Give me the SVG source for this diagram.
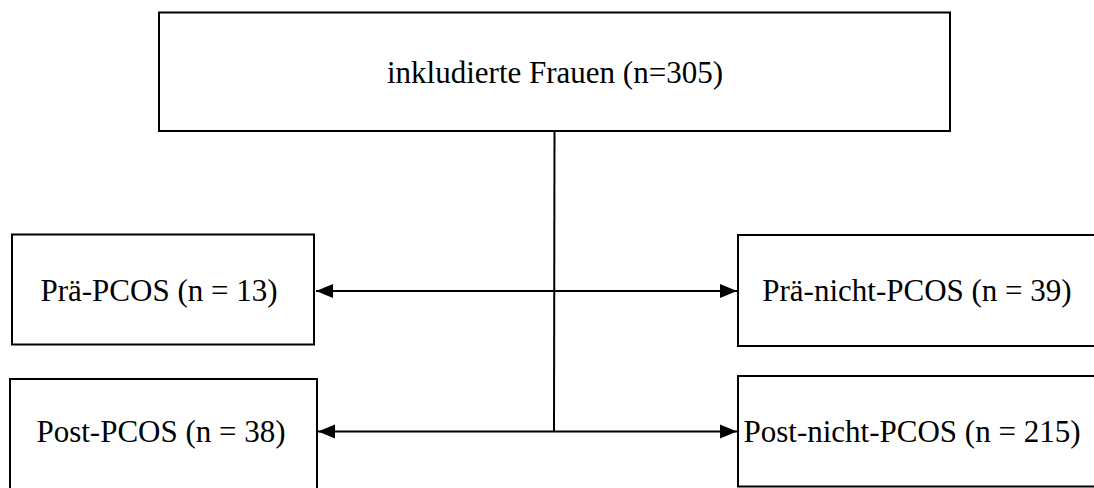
<svg xmlns="http://www.w3.org/2000/svg" width="1094" height="488" viewBox="0 0 1094 488">
<style>
.box{fill:#fff;stroke:#000;stroke-width:2}
.lbl{font-family:'Liberation Serif','Tinos','Times New Roman','DejaVu Serif',serif;font-size:31px;fill:#000;text-anchor:middle}
.edge{fill:none;stroke:#000;stroke-width:2}
</style>
<defs>
<marker id="ah" markerUnits="userSpaceOnUse" markerWidth="18" markerHeight="18" viewBox="0 0 18 18" refX="17" refY="9" orient="auto-start-reverse">
<path d="M0,2 L17,9 L0,16 Z" fill="#000"/>
</marker>
</defs>
<rect width="1094" height="488" fill="#fff"/>
<g id="n-top"><rect class="box" x="159" y="12.5" width="791" height="118.5"/><text class="lbl" x="555" y="83">inkludierte Frauen (n=305)</text></g>
<g id="n-pre-pcos"><rect class="box" x="12" y="234.5" width="302" height="110"/><text class="lbl" x="159" y="301">Prä-PCOS (n = 13)</text></g>
<g id="n-pre-non"><rect class="box" x="738" y="235" width="380" height="111"/><text class="lbl" x="917" y="301">Prä-nicht-PCOS (n = 39)</text></g>
<g id="n-post-pcos"><rect class="box" x="10" y="379" width="307" height="130"/><text class="lbl" x="161" y="442">Post-PCOS (n = 38)</text></g>
<g id="n-post-non"><rect class="box" x="738" y="376" width="380" height="110.5"/><text class="lbl" x="912" y="442">Post-nicht-PCOS (n = 215)</text></g>
<g id="connectors">
<path class="edge" d="M554.5,131 L554,431"/>
<path class="edge" d="M316,291 L737,291" marker-start="url(#ah)" marker-end="url(#ah)"/>
<path class="edge" d="M318,431.5 L737,431.5" marker-start="url(#ah)" marker-end="url(#ah)"/>
</g>
</svg>
